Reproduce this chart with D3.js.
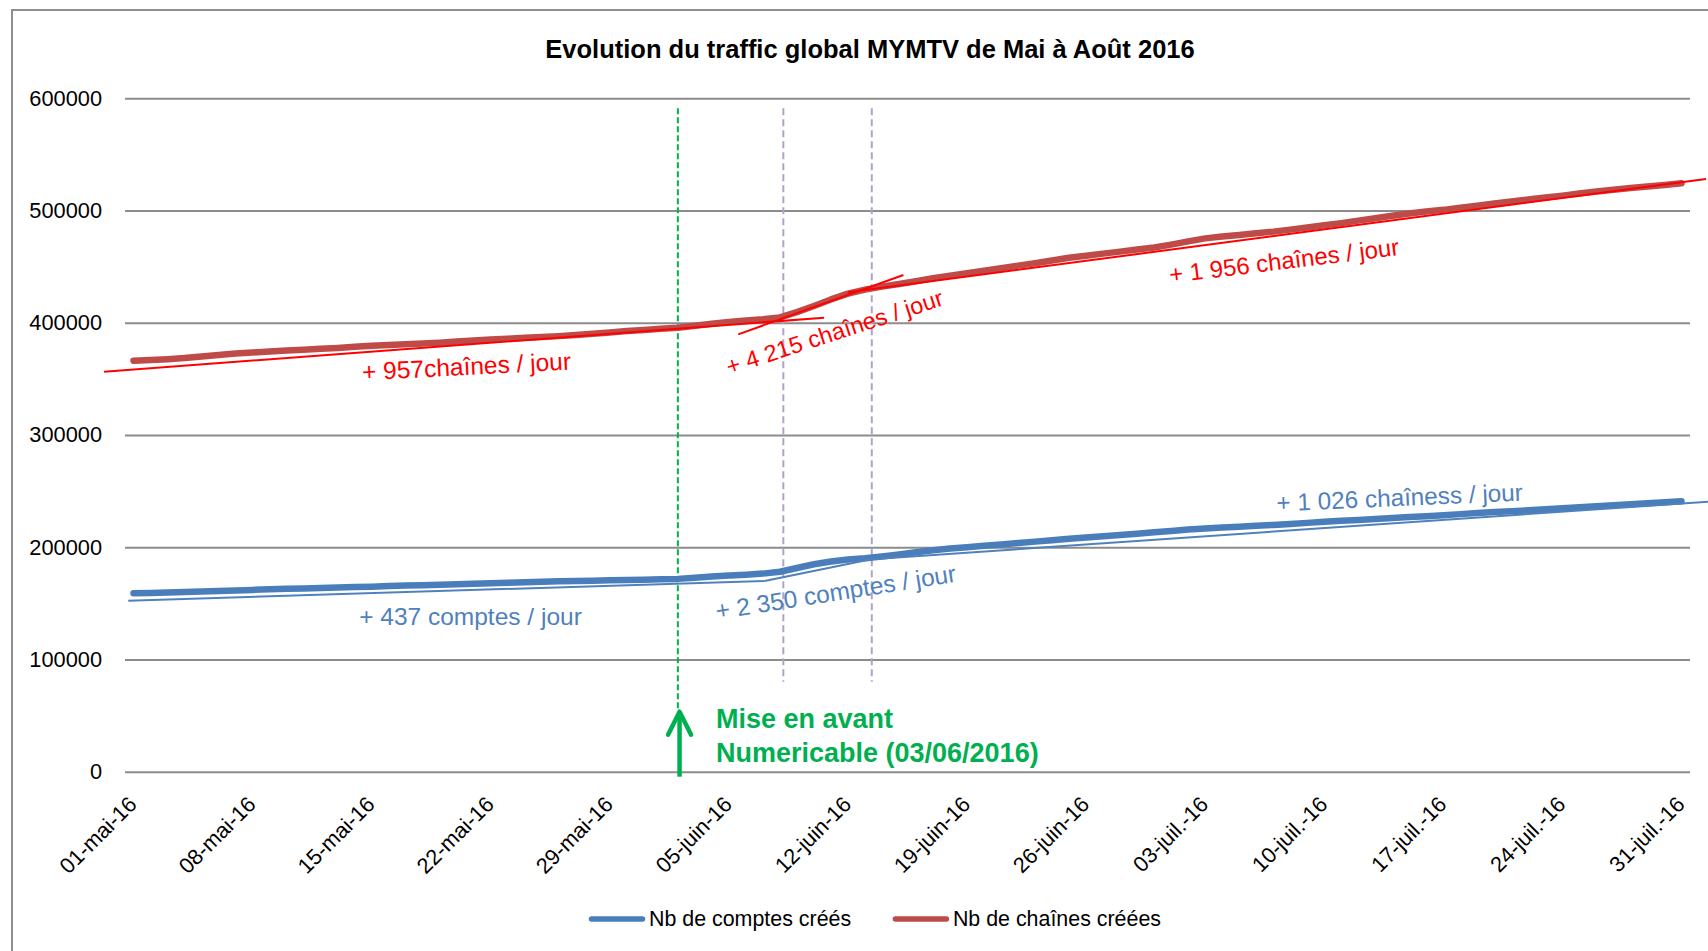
<!DOCTYPE html>
<html><head><meta charset="utf-8">
<script src="https://cdn.jsdelivr.net/npm/d3@7"></script>
<style>
html,body{margin:0;padding:0;background:#fff;}
svg{display:block;}
text{font-family:"Liberation Sans",Arial,sans-serif;}
</style>
</head><body>
<svg id="chart" width="1708" height="951"></svg>
<script>
const title = "Evolution du traffic global MYMTV de Mai à Août 2016";
const seriesNames = ["Nb de comptes créés", "Nb de chaînes créées"];
const seriesColors = ["#4A7EBB", "#BE4B48"];
const nDays = 92; // 01-mai-16 .. 31-juil.-16
const tickIndex = [0, 7, 14, 21, 28, 35, 42, 49, 56, 63, 70, 77, 84, 91];
const tickLabels = ["01-mai-16","08-mai-16","15-mai-16","22-mai-16","29-mai-16","05-juin-16","12-juin-16","19-juin-16","26-juin-16","03-juil.-16","10-juil.-16","17-juil.-16","24-juil.-16","31-juil.-16"];
const yTicks = [0, 100000, 200000, 300000, 400000, 500000, 600000];

// Nb de comptes créés (daily)
const comptes = [
159000,159300,159700,160100,160600,161000,161500,162000,162500,162900,
163300,163700,164100,164500,164900,165400,165800,166200,166600,167000,
167400,167900,168300,168800,169200,169600,169900,170200,170500,170800,
171100,171400,171800,172900,174000,174800,175500,176500,178200,181500,
184800,187300,189000,190200,191800,193600,195600,197400,198800,200000,
201300,202500,203800,205000,206300,207600,208700,209700,210900,212100,
213300,214500,215700,216700,217500,218300,219100,219900,220800,221700,
222600,223500,224300,225200,226000,226900,227700,228600,229500,230400,
231300,232100,232900,233800,234700,235600,236500,237400,238300,239200,
240100,241000];

// Nb de chaînes créées (daily)
const chaines = [
366200,366800,367600,368600,370000,371200,372600,373500,374400,375200,
376000,376800,377600,378600,379500,380200,380900,381600,382300,383300,
384200,385000,385800,386600,387300,388100,389100,390200,391400,392600,
393600,394600,395600,397300,399200,400800,402000,403200,404800,409500,
415000,420800,426000,429500,432200,434600,437000,439600,441900,444200,
446400,448600,450900,453100,455500,458000,459800,461600,463400,465200,
467000,469600,472500,475200,476800,478200,479800,481200,483000,484900,
486900,488800,491000,493200,495400,497400,499200,500600,502400,504300,
506300,508100,509900,511600,513300,515200,516900,518500,520000,521400,
522800,524300];

// hand-drawn trend segments [dayIndex, value]
const trendComptes = [
  [[-0.31,152400],[37.1,169900]],
  [[37.1,169900],[43.36,189300]],
  [[43.36,189300],[92.56,240570]]
];
const trendChaines = [
  [[-1.73,356400],[40.6,404500]],
  [[35.55,389700],[45.26,442600]],
  [[42.0,427200],[92.44,528100]]
];

// rate annotations [text, dayIndex, value, angle, series, size]
const rateLabels = [
  ["+ 957chaînes / jour", 19.6, 353500, -3, 1, 24.5],
  ["+ 4 215 chaînes / jour", 41.36, 384700, -18, 1, 23.5],
  ["+ 1 956 chaînes / jour", 67.7, 447900, -7, 1, 24],
  ["+ 437 comptes / jour", 19.81, 130700, 0, 0, 24.5],
  ["+ 2 350 comptes / jour", 41.36, 152500, -9, 0, 24.5],
  ["+ 1 026 chaîness / jour", 74.45, 236800, -2.5, 0, 24.3]
];

const launchDay = 32.0;           // green marker
const phaseDays = [38.2, 43.4];   // lavender markers
const markerTop = 591100;
const launchText = ["Mise en avant", "Numericable (03/06/2016)"];

const svg = d3.select("#chart");
const W = 1708, H = 951;
const x = d3.scaleLinear().domain([-0.5, nDays - 0.5]).range([125, 1690]);
const y = d3.scaleLinear().domain([0, 600000]).range([771.7, 98.3]);

// outer chart border
svg.append("rect").attr("x", 12).attr("y", 10).attr("width", W).attr("height", H)
  .attr("fill", "#fff").attr("stroke", "#8e8e8e").attr("stroke-width", 2);

// title
svg.append("text").attr("x", 870).attr("y", 58).attr("text-anchor", "middle")
  .attr("font-size", 25.5).attr("font-weight", "bold").attr("fill", "#000").text(title);

// y axis with gridlines
const yAxis = d3.axisLeft(y).tickValues(yTicks).tickFormat(d3.format("d"))
  .tickSizeInner(-(1690 - 125)).tickSizeOuter(0).tickPadding(23);
const gy = svg.append("g").attr("transform", "translate(125,0)").call(yAxis);
gy.select(".domain").remove();
gy.selectAll(".tick line").attr("stroke", "#8c8c8c").attr("stroke-width", 2);
gy.selectAll(".tick text").attr("font-size", 21.8).attr("fill", "#000")
  .style("font-family", '"Liberation Sans",Arial,sans-serif');

// x axis labels
const xAxis = d3.axisBottom(x).tickValues(tickIndex)
  .tickFormat((d, i) => tickLabels[i]).tickSize(0);
const gx = svg.append("g").attr("transform", `translate(0,${y(0)})`).call(xAxis);
gx.select(".domain").remove();
gx.selectAll(".tick text").attr("x", 0).attr("y", 0).attr("dy", 0)
  .attr("text-anchor", "end").attr("font-size", 21.8).attr("fill", "#000")
  .style("font-family", '"Liberation Sans",Arial,sans-serif')
  .attr("transform", "translate(4,34) rotate(-45)");

// vertical markers
svg.append("line").attr("x1", x(launchDay)).attr("x2", x(launchDay))
  .attr("y1", y(markerTop)).attr("y2", y(53460))
  .attr("stroke", "#00B050").attr("stroke-width", 2).attr("stroke-dasharray", "6,3");
svg.selectAll(".phase").data(phaseDays).join("line").attr("class", "phase")
  .attr("x1", d => x(d)).attr("x2", d => x(d))
  .attr("y1", y(markerTop)).attr("y2", y(80190))
  .attr("stroke", "#B3A2C7").attr("stroke-width", 2).attr("stroke-dasharray", "7,4");

// series lines
const line = d3.line().x((d, i) => x(i)).y(d => y(d));
[comptes, chaines].forEach((s, k) => {
  svg.append("path").datum(s).attr("d", line).attr("fill", "none")
    .attr("stroke", seriesColors[k]).attr("stroke-width", 6.5)
    .attr("stroke-linecap", "round").attr("stroke-linejoin", "round");
});

// trend segments
const tline = d3.line().x(d => x(d[0])).y(d => y(d[1]));
trendChaines.forEach(seg => svg.append("path").datum(seg).attr("d", tline)
  .attr("fill", "none").attr("stroke", "#FF0000").attr("stroke-width", 2));
trendComptes.forEach(seg => svg.append("path").datum(seg).attr("d", tline)
  .attr("fill", "none").attr("stroke", "#4F81BD").attr("stroke-width", 2));

// rate labels
rateLabels.forEach(r => {
  const px = x(r[1]), py = y(r[2]);
  svg.append("text").attr("transform", `translate(${px},${py}) rotate(${r[3]})`)
    .attr("text-anchor", "middle").attr("font-size", r[5])
    .attr("fill", r[4] === 1 ? "#FF0000" : "#4F81BD").text(r[0]);
});

// launch arrow
const ax = x(32.1), aTop = y(53460), aBot = y(-4455);
svg.append("line").attr("x1", ax).attr("x2", ax).attr("y1", aBot).attr("y2", aTop + 2)
  .attr("stroke", "#00B050").attr("stroke-width", 4.5);
svg.append("path").attr("d", `M${ax - 11.5},${aTop + 23} L${ax},${aTop} L${ax + 11.5},${aTop + 23}`)
  .attr("fill", "none").attr("stroke", "#00B050").attr("stroke-width", 4.5)
  .attr("stroke-linecap", "round").attr("stroke-linejoin", "round");
svg.append("text").attr("x", x(34.24)).attr("y", y(38670)).attr("font-size", 27)
  .attr("font-weight", "bold").attr("fill", "#00B050").text(launchText[0]);
svg.append("text").attr("x", x(34.24)).attr("y", y(8910)).attr("font-size", 27)
  .attr("font-weight", "bold").attr("fill", "#00B050").text(launchText[1]);

// legend
const legendX = [591.5, 895.4];
seriesNames.forEach((n, k) => {
  const g = svg.append("g").attr("transform", `translate(${legendX[k]},919)`);
  g.append("line").attr("x1", 0).attr("x2", 51).attr("y1", 0).attr("y2", 0)
    .attr("stroke", seriesColors[k]).attr("stroke-width", 5.5).attr("stroke-linecap", "round");
  g.append("text").attr("x", 57.5).attr("y", 6.5).attr("font-size", 21.4)
    .attr("fill", "#000").text(n);
});
</script>
</body></html>
